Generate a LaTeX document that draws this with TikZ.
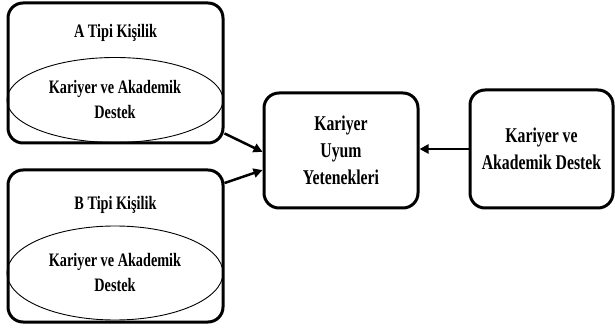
\documentclass[tikz,border=0pt]{standalone}
\usepackage{fontspec}
\setmainfont{Liberation Serif}[FakeStretch=0.75]
\usetikzlibrary{arrows.meta, shapes.geometric}

\begin{document}
\begin{tikzpicture}[x=1pt,y=-1pt,font=\bfseries,
  card/.style={draw,line width=3pt,rounded corners=15pt,inner sep=0pt},
  oval/.style={draw,ellipse,line width=0.9pt,inner sep=0pt,align=center,font=\bfseries\fontsize{19}{25}\selectfont},
  title/.style={font=\bfseries\fontsize{19}{25}\selectfont},
  big/.style={align=center,font=\bfseries\fontsize{21}{27}\selectfont},
  arrow/.style={line width=2.5pt,-{Triangle[length=9pt,width=9pt]}}]
\useasboundingbox (0,0) rectangle (615,328);
% left column
\node[card,minimum width=215pt,minimum height=140pt] (boxA) at (115.5,73){};
\node[title] (titleA) at (115.5,33){A Tipi Kişilik};
\node[oval,minimum width=216pt,minimum height=85pt] (ovalA) at (115,100){Kariyer ve Akademik\\Destek};
\node[card,minimum width=215pt,minimum height=152pt] (boxB) at (115.5,246){};
\node[title] (titleB) at (115.5,205){B Tipi Kişilik};
\node[oval,minimum width=216pt,minimum height=94pt] (ovalB) at (115,273){Kariyer ve Akademik\\Destek};
% middle and right
\node[card,big,minimum width=154pt,minimum height=115pt] (center) at (341,150.5){Kariyer\\Uyum\\Yetenekleri};
\node[card,big,minimum width=143pt,minimum height=118pt] (support) at (541.5,149){Kariyer ve\\Akademik Destek};
% connectors
\draw[arrow] (boxA.-29) -- (center.181);
\draw[arrow] (boxB.30) -- (center.194);
\draw[arrow] (support.west) -- (support.west -| center.east);
\end{tikzpicture}
\end{document}
